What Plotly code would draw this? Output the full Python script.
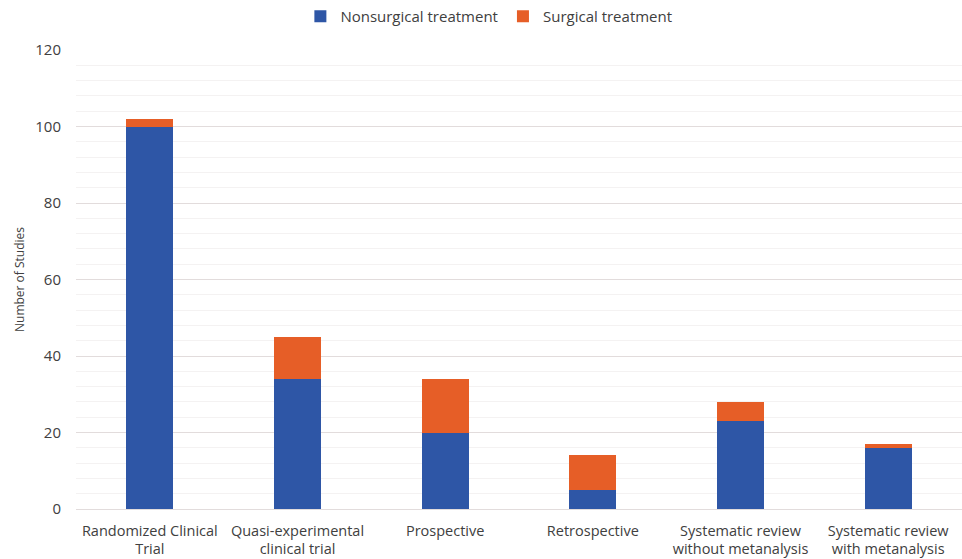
import plotly.graph_objects as go

# Study designs and counts per treatment type
categories = [
    "Randomized Clinical<br>Trial",
    "Quasi-experimental<br>clinical trial",
    "Prospective",
    "Retrospective",
    "Systematic review<br>without metanalysis",
    "Systematic review<br>with metanalysis",
]
nonsurgical = [100, 34, 20, 5, 23, 16]
surgical = [2, 11, 14, 9, 5, 1]

BLUE = "#2E56A6"
ORANGE = "#E65E27"
FONT = "Open Sans, Liberation Sans, sans-serif"

fig = go.Figure()
fig.add_trace(go.Bar(x=categories, y=nonsurgical, name="Nonsurgical treatment",
                     marker=dict(color=BLUE, line=dict(width=0))))
fig.add_trace(go.Bar(x=categories, y=surgical, name="Surgical treatment",
                     marker=dict(color=ORANGE, line=dict(width=0))))

fig.update_layout(
    width=962, height=559,
    barmode="stack",
    bargap=0.68,
    plot_bgcolor="white",
    paper_bgcolor="white",
    margin=dict(l=76, r=0, t=49, b=50),
    font=dict(family=FONT, size=12, color="#595959"),
    legend=dict(orientation="h", x=0.466, xanchor="center", y=1.073, yanchor="middle",
                font=dict(size=15, color="#404040"), traceorder="normal",
                itemwidth=30, itemsizing="constant"),
    xaxis=dict(showgrid=False, showline=False, ticks="", ticklabelstandoff=11,
               tickfont=dict(size=14.5, color="#404040")),
    yaxis=dict(range=[0, 120], dtick=20, showline=False, ticks="",
               ticklabelstandoff=14,
               gridcolor="#E2DCDC", gridwidth=1,
               zeroline=True, zerolinecolor="#E2DCDC", zerolinewidth=1,
               minor=dict(dtick=4, showgrid=True, gridcolor="#F4F2F2", gridwidth=1),
               tickfont=dict(size=15, color="#404040"),
               title=dict(text="Number of Studies", font=dict(size=12, color="#404040"),
                          standoff=8)),
)

fig.write_html("out.html")
